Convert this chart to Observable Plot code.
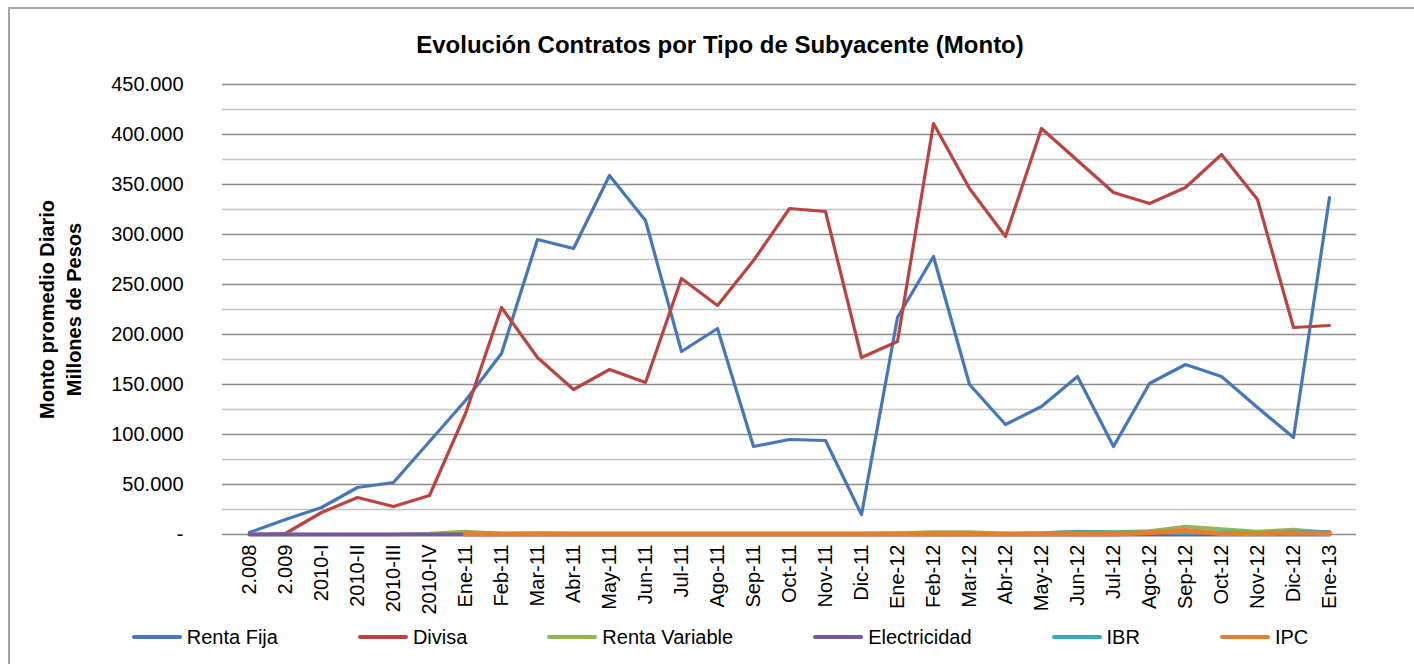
<!DOCTYPE html>
<html>
<head>
<meta charset="utf-8">
<script src="https://cdn.jsdelivr.net/npm/d3@7"></script>
<script src="https://cdn.jsdelivr.net/npm/@observablehq/plot@0.6"></script>
<style>
  html, body { margin: 0; padding: 0; background: #fff; overflow: hidden; }
  body { width: 1414px; height: 664px; position: relative; font-family: "Liberation Sans", Arial, sans-serif; color: #000; }
  #frame { position: absolute; left: 8px; top: 7px; width: 1500px; height: 700px; border: 2px solid #a6a6a6; box-sizing: border-box; z-index: 0; }
  #wrap { position: relative; z-index: 1; width: 1414px; }
  #title { width: 1440px; height: 70px; box-sizing: border-box; padding-top: 31px; text-align: center; font-weight: bold; font-size: 24px; line-height: 28px; }
  #chart svg { display: block; }
  #legend { width: 1440px; display: flex; justify-content: center; gap: 80px; font-size: 20px; line-height: 24px; }
  .item { display: flex; align-items: center; gap: 5px; }
  .swatch { width: 50px; height: 4px; border-radius: 2px; }
</style>
</head>
<body>
<div id="frame"></div>
<div id="wrap">
  <div id="title">Evolución Contratos por Tipo de Subyacente (Monto)</div>
  <div id="chart"></div>
  <div id="legend"></div>
</div>
<script>
const categories = ["2.008","2.009","2010-I","2010-II","2010-III","2010-IV","Ene-11","Feb-11","Mar-11","Abr-11","May-11","Jun-11","Jul-11","Ago-11","Sep-11","Oct-11","Nov-11","Dic-11","Ene-12","Feb-12","Mar-12","Abr-12","May-12","Jun-12","Jul-12","Ago-12","Sep-12","Oct-12","Nov-12","Dic-12","Ene-13"];

const seriesNames = ["Renta Fija","Divisa","Renta Variable","Electricidad","IBR","IPC"];
const seriesColors = ["#4677B8","#BA4441","#93B653","#77589C","#41A4BF","#E3802F"];
const seriesWidths = [3.2, 3.2, 3.4, 4, 3.8, 5.2];

const rentaFija = [2000,15000,27000,47000,52000,93000,134000,181000,295000,286000,359000,314000,183000,206000,88000,95000,94000,20000,217000,278000,150000,110000,128000,158000,88000,151000,170000,158000,127000,97000,337000];
const divisa = [0,1000,22000,37000,28000,39000,121000,227000,177000,145000,165000,152000,256000,229000,274000,326000,323000,177000,193000,411000,346000,298000,406000,374000,342000,331000,347000,380000,335000,207000,209000];
const rentaVariable = [0,0,0,0,0,1000,3000,1000,1500,1000,1000,1000,1000,1000,1000,1000,1000,1000,1500,2500,2500,1000,1500,3000,2500,3500,8000,5500,3000,5000,2000];
const electricidad = [0,0,0,0,0,0,0,0,0,0,0,0,0,0,0,0,0,0,0,0,0,0,0,0,0,0,0,0,0,0,0];
const ibr = [null,null,null,null,null,null,500,500,500,500,500,500,500,500,500,500,500,500,500,500,500,500,1000,2500,2000,2500,1500,2000,1500,2500,2500];
const ipc = [null,null,null,null,null,null,500,500,500,500,500,500,500,500,500,500,500,500,500,500,500,500,500,500,500,2000,4000,1000,1000,1500,1000];

const yTicks = [0,50000,100000,150000,200000,250000,300000,350000,400000,450000];
const yMinor = [25000,75000,125000,175000,225000,275000,325000,375000,425000];
const yTitle = "Monto promedio Diario\nMillones de Pesos";

const seriesValues = [rentaFija, divisa, rentaVariable, electricidad, ibr, ipc];
const seriesData = seriesNames.map((name, s) =>
  categories.map((c, i) => ({series: name, cat: c, value: seriesValues[s][i]}))
    .filter(d => d.value !== null)
);

const fmt = v => v === 0 ? "-" : d3.format(",")(v).replace(/,/g, ".");

const chart = Plot.plot({
  width: 1414,
  height: 555,
  marginTop: 14,
  marginBottom: 91,
  marginLeft: 222,
  marginRight: 58,
  style: {fontFamily: '"Liberation Sans", Arial, sans-serif', fontSize: "20px", color: "#000", background: "transparent", overflow: "visible"},
  x: {type: "point", domain: categories, padding: 0.5},
  y: {domain: [0, 450000]},
  color: {domain: seriesNames, range: seriesColors},
  marks: [
    Plot.ruleY(yMinor, {stroke: "#c4c4c4", strokeWidth: 1.5}),
    Plot.ruleY(yTicks, {stroke: "#8c8c8c", strokeWidth: 1.5}),
    Plot.axisY(yTicks, {tickSize: 0, tickPadding: 39, tickFormat: fmt, label: null, fontSize: 20}),
    Plot.axisX({tickRotate: -90, tickSize: 0, tickPadding: 10, label: null, fontSize: 20}),
    ...seriesData.map((d, s) => Plot.line(d, {x: "cat", y: "value", stroke: "series", strokeWidth: seriesWidths[s], strokeLinejoin: "round", strokeLinecap: "round"})),
    Plot.text([yTitle], {frameAnchor: "left", rotate: -90, dx: -164, fontWeight: "bold", fontSize: 20, lineHeight: 1.35, textAnchor: "middle", lineAnchor: "middle"})
  ]
});
document.getElementById("chart").appendChild(chart);

const legend = document.getElementById("legend");
seriesNames.forEach((name, i) => {
  const item = document.createElement("div");
  item.className = "item";
  const sw = document.createElement("div");
  sw.className = "swatch";
  sw.style.background = seriesColors[i];
  const t = document.createElement("span");
  t.textContent = name;
  item.appendChild(sw);
  item.appendChild(t);
  legend.appendChild(item);
});
</script>
</body>
</html>
